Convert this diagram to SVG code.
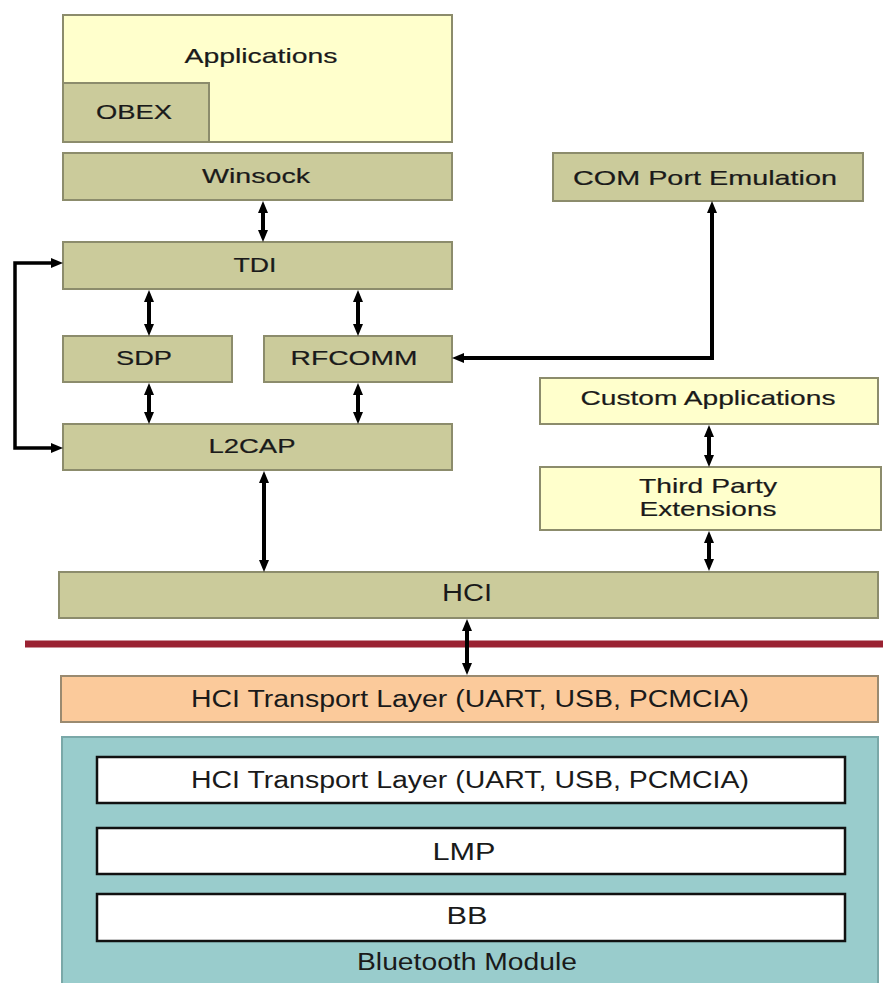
<svg xmlns="http://www.w3.org/2000/svg" width="883" height="983" viewBox="0 0 883 983">
  <style>
    .olive { fill: #cbcb9b; stroke: #8c8c6c; stroke-width: 2; }
    .pale { fill: #ffffcc; stroke: #8c8c6c; stroke-width: 2; }
    .peach { fill: #fbca9b; stroke: #9a8a70; stroke-width: 2; }
    .teal { fill: #99cccc; stroke: #7aa8a8; stroke-width: 2; }
    .inner { fill: #ffffff; stroke: #111111; stroke-width: 2.5; }
    text { font-family: "Liberation Sans", Arial, sans-serif; font-size: 21px; fill: #1a1a1a; text-anchor: middle; }
    .wide { stroke: #1a1a1a; stroke-width: 0.2; }
    .narrow { font-size: 23px; }
    .link { fill: none; stroke: #000000; stroke-width: 4; }
    .loop { fill: none; stroke: #000000; stroke-width: 3.5; }
  </style>
  <defs>
    <marker id="head" viewBox="0 0 12 10" refX="2" refY="5" markerWidth="12" markerHeight="10" markerUnits="userSpaceOnUse" orient="auto-start-reverse">
      <path d="M0,0 L12,5 L0,10 z" fill="#000000"/>
    </marker>
  </defs>

  <rect width="883" height="983" fill="#ffffff"/>

  <g id="applications">
    <rect class="pale" x="63" y="15" width="389" height="127"/>
    <text class="wide" x="261" y="63" textLength="153" lengthAdjust="spacingAndGlyphs">Applications</text>
  </g>
  <g id="obex">
    <rect class="olive" x="63" y="83" width="146" height="59"/>
    <text class="wide" x="134" y="119" textLength="76" lengthAdjust="spacingAndGlyphs">OBEX</text>
  </g>
  <g id="winsock">
    <rect class="olive" x="63" y="153" width="389" height="47"/>
    <text class="wide" x="256" y="183" textLength="108" lengthAdjust="spacingAndGlyphs">Winsock</text>
  </g>
  <g id="tdi">
    <rect class="olive" x="63" y="242" width="389" height="47"/>
    <text class="wide" x="255" y="272" textLength="43" lengthAdjust="spacingAndGlyphs">TDI</text>
  </g>
  <g id="sdp">
    <rect class="olive" x="63" y="336" width="169" height="46"/>
    <text class="wide" x="144" y="365" textLength="56" lengthAdjust="spacingAndGlyphs">SDP</text>
  </g>
  <g id="rfcomm">
    <rect class="olive" x="264" y="336" width="188" height="46"/>
    <text class="wide" x="354" y="365" textLength="127" lengthAdjust="spacingAndGlyphs">RFCOMM</text>
  </g>
  <g id="l2cap">
    <rect class="olive" x="63" y="424" width="389" height="46"/>
    <text class="wide" x="252" y="453" textLength="87" lengthAdjust="spacingAndGlyphs">L2CAP</text>
  </g>
  <g id="com-port-emulation">
    <rect class="olive" x="553" y="153" width="310" height="48"/>
    <text class="wide" x="705" y="185" textLength="264" lengthAdjust="spacingAndGlyphs">COM Port Emulation</text>
  </g>
  <g id="custom-applications">
    <rect class="pale" x="540" y="378" width="338" height="46"/>
    <text class="wide" x="708" y="405" textLength="255" lengthAdjust="spacingAndGlyphs">Custom Applications</text>
  </g>
  <g id="third-party-extensions">
    <rect class="pale" x="540" y="467" width="341" height="63"/>
    <text class="wide" x="708" y="493" textLength="138" lengthAdjust="spacingAndGlyphs">Third Party</text>
    <text class="wide" x="708" y="516" textLength="137" lengthAdjust="spacingAndGlyphs">Extensions</text>
  </g>
  <g id="hci">
    <rect class="olive" x="59" y="572" width="819" height="46"/>
    <text class="narrow" x="467" y="601" textLength="50" lengthAdjust="spacingAndGlyphs">HCI</text>
  </g>

  <!-- host / controller boundary -->
  <line x1="25" y1="644" x2="883" y2="644" stroke="#9a2232" stroke-width="7"/>

  <g id="hci-transport-host">
    <rect class="peach" x="61" y="676" width="817" height="46"/>
    <text class="narrow" x="470" y="707" textLength="558" lengthAdjust="spacingAndGlyphs">HCI Transport Layer (UART, USB, PCMCIA)</text>
  </g>
  <g id="bluetooth-module">
    <rect class="teal" x="62" y="737" width="816" height="252"/>
    <text class="narrow" x="467" y="970" textLength="220" lengthAdjust="spacingAndGlyphs">Bluetooth Module</text>
  </g>
  <g id="hci-transport-module">
    <rect class="inner" x="97" y="757" width="748" height="46"/>
    <text class="narrow" x="470" y="788" textLength="558" lengthAdjust="spacingAndGlyphs">HCI Transport Layer (UART, USB, PCMCIA)</text>
  </g>
  <g id="lmp">
    <rect class="inner" x="97" y="828" width="748" height="46"/>
    <text class="narrow" x="464" y="860" textLength="63" lengthAdjust="spacingAndGlyphs">LMP</text>
  </g>
  <g id="bb">
    <rect class="inner" x="97" y="894" width="748" height="47"/>
    <text class="narrow" x="467" y="924" textLength="41" lengthAdjust="spacingAndGlyphs">BB</text>
  </g>

  <g id="connectors">
    <line class="link" x1="263" y1="211" x2="263" y2="232" marker-start="url(#head)" marker-end="url(#head)"/>
    <line class="link" x1="149" y1="300" x2="149" y2="326" marker-start="url(#head)" marker-end="url(#head)"/>
    <line class="link" x1="358" y1="300" x2="358" y2="326" marker-start="url(#head)" marker-end="url(#head)"/>
    <line class="link" x1="149" y1="393" x2="149" y2="414" marker-start="url(#head)" marker-end="url(#head)"/>
    <line class="link" x1="358" y1="393" x2="358" y2="414" marker-start="url(#head)" marker-end="url(#head)"/>
    <line class="link" x1="264" y1="481" x2="264" y2="562" marker-start="url(#head)" marker-end="url(#head)"/>
    <line class="link" x1="709" y1="435" x2="709" y2="457" marker-start="url(#head)" marker-end="url(#head)"/>
    <line class="link" x1="709" y1="541" x2="709" y2="561" marker-start="url(#head)" marker-end="url(#head)"/>
    <line class="link" x1="467" y1="629" x2="467" y2="665" marker-start="url(#head)" marker-end="url(#head)"/>
    <path class="loop" d="M53,263 H15 V448 H53" marker-start="url(#head)" marker-end="url(#head)"/>
    <path class="link" d="M462,358 H712 V211" marker-start="url(#head)" marker-end="url(#head)"/>
  </g>
</svg>
